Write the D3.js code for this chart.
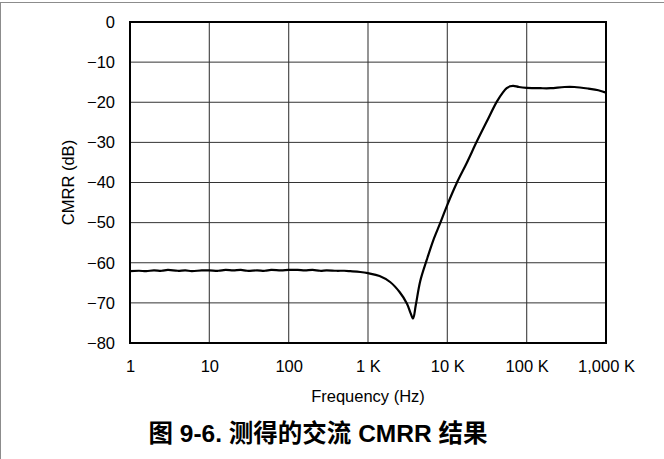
<!DOCTYPE html>
<html>
<head>
<meta charset="utf-8">
<script src="https://cdn.jsdelivr.net/npm/d3@7"></script>
<style>
  html, body { margin: 0; padding: 0; background: #fff; }
  svg { display: block; }
  text { font-family: "Liberation Sans", Arial, "Noto Sans CJK SC", sans-serif; fill: #000; }
</style>
</head>
<body>
<svg id="chart" width="664" height="459"></svg>
<script>
// Measured AC common-mode rejection ratio versus frequency
const freqHz = [
  1, 1.3, 1.6, 2, 2.5, 3, 4, 5, 6, 8,
  10, 13, 16, 20, 25, 30, 40, 50, 60, 80,
  100, 130, 160, 200, 250, 300, 400, 500, 600, 800,
  1000, 1400, 1900, 2500, 3100, 3450, 3700, 4000, 4550, 5500,
  6650, 8100, 9800, 13100, 17500, 23500, 31400, 41900, 50000, 56000,
  62000, 68000, 80000, 100000, 150000, 200000, 300000, 400000, 600000, 800000,
  1000000
];
const cmrrDb = [
  -62.1, -62.0, -62.1, -61.9, -62.0, -61.8, -62.0, -61.9, -62.1, -61.9,
  -61.9, -62.0, -61.8, -61.9, -61.8, -62.0, -61.9, -62.0, -61.8, -61.9,
  -61.8, -61.8, -61.9, -61.8, -62.0, -61.9, -62.0, -62.0, -62.1, -62.3,
  -62.6, -63.3, -64.8, -67.3, -70.2, -72.6, -73.9, -70.6, -64.6, -59.3,
  -54.4, -50.2, -46.0, -40.2, -35.2, -29.8, -24.8, -19.9, -17.6, -16.5,
  -16.0, -15.9, -16.2, -16.4, -16.5, -16.5, -16.2, -16.2, -16.6, -17.0,
  -17.6
];

const xTickValues = [1, 10, 100, 1e3, 1e4, 1e5, 1e6];
const xTickLabels = ["1", "10", "100", "1 K", "10 K", "100 K", "1,000 K"];
const yTickValues = [0, -10, -20, -30, -40, -50, -60, -70, -80];

const xTitle = "Frequency (Hz)";
const yTitle = "CMRR (dB)";
const figureTitle = "图 9-6. 测得的交流 CMRR 结果";

const svg = d3.select("#chart");
const W = 664, H = 459;
const plot = { left: 130, top: 22, right: 606, bottom: 343 };
const labelSize = 16.5;

// Outer figure frame (top and left rules)
svg.append("line").attr("x1", 0).attr("x2", W).attr("y1", 2.5).attr("y2", 2.5)
  .attr("stroke", "#8c8c8c").attr("stroke-width", 1);
svg.append("line").attr("x1", 0.5).attr("x2", 0.5).attr("y1", 2).attr("y2", H)
  .attr("stroke", "#8c8c8c").attr("stroke-width", 1);

const x = d3.scaleLog().domain([1, 1e6]).range([plot.left, plot.right]);
const y = d3.scaleLinear().domain([-80, 0]).range([plot.bottom, plot.top]);

// Grid lines
const grid = svg.append("g");
grid.selectAll("line.vx").data(xTickValues.slice(1, -1)).join("line")
  .attr("x1", d => x(d)).attr("x2", d => x(d))
  .attr("y1", plot.top).attr("y2", plot.bottom)
  .attr("stroke", "#4d4d4d").attr("stroke-width", 1.2);
grid.selectAll("line.hy").data(yTickValues.slice(1, -1)).join("line")
  .attr("x1", plot.left).attr("x2", plot.right)
  .attr("y1", d => y(d)).attr("y2", d => y(d))
  .attr("stroke", "#333").attr("stroke-width", 1);

// Axes (labels only; the plot frame is drawn separately)
const xAxis = d3.axisBottom(x).tickValues(xTickValues)
  .tickFormat((d, i) => xTickLabels[i]).tickSize(0).tickPadding(17);
const gx = svg.append("g").attr("transform", `translate(0,${plot.bottom})`).call(xAxis);
gx.select(".domain").remove();
gx.selectAll("text").attr("font-size", labelSize).attr("font-family", null);

const yAxis = d3.axisLeft(y).tickValues(yTickValues)
  .tickFormat(d => d === 0 ? "0" : "\u2212" + Math.abs(d)).tickSize(0).tickPadding(15);
const gy = svg.append("g").attr("transform", `translate(${plot.left},0)`).call(yAxis);
gy.select(".domain").remove();
gy.selectAll("text").attr("font-size", labelSize).attr("font-family", null);

// Plot frame
svg.append("rect")
  .attr("x", plot.left).attr("y", plot.top)
  .attr("width", plot.right - plot.left).attr("height", plot.bottom - plot.top)
  .attr("fill", "none").attr("stroke", "#000").attr("stroke-width", 2);

// CMRR curve
const pts = freqHz.map((f, i) => [f, cmrrDb[i]]);
const line = d3.line()
  .x(d => x(d[0])).y(d => y(d[1]))
  .curve(d3.curveCatmullRom.alpha(0.5));
svg.append("path").datum(pts)
  .attr("d", line)
  .attr("fill", "none").attr("stroke", "#000").attr("stroke-width", 2.2)
  .attr("stroke-linejoin", "round");

// Axis titles
svg.append("text")
  .attr("x", (plot.left + plot.right) / 2).attr("y", 402)
  .attr("text-anchor", "middle").attr("font-size", labelSize)
  .text(xTitle);
svg.append("text")
  .attr("transform", `translate(74,${(plot.top + plot.bottom) / 2}) rotate(-90)`)
  .attr("text-anchor", "middle").attr("font-size", labelSize)
  .text(yTitle);

// Figure caption
svg.append("text")
  .attr("x", 318).attr("y", 442)
  .attr("text-anchor", "middle").attr("font-size", 24.5).attr("font-weight", "bold")
  .text(figureTitle);
</script>
</body>
</html>
